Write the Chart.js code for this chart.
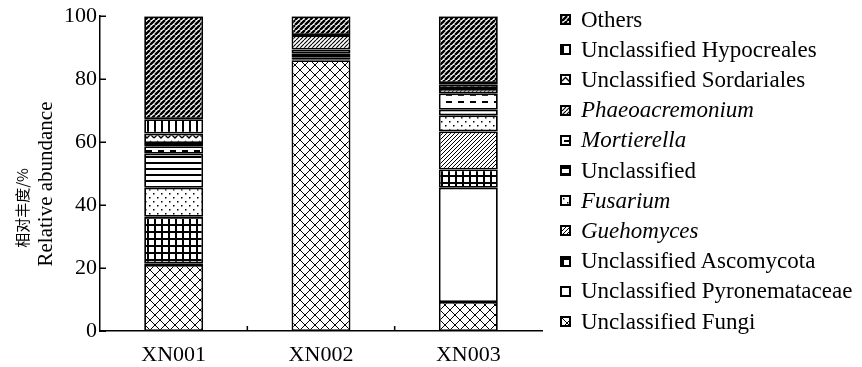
<!DOCTYPE html>
<html>
<head>
<meta charset="utf-8">
<script src="https://cdn.jsdelivr.net/npm/chart.js@4.4.0/dist/chart.umd.min.js"></script>
<style>
  html, body { margin: 0; padding: 0; background: #fff; }
  #wrap { position: relative; width: 862px; height: 367px; overflow: hidden; }
  #chart { position: absolute; left: 0; top: 0; }
  #legend { position: absolute; left: 0; top: 0; width: 862px; height: 367px; pointer-events: none; }
  .row { position: absolute; left: 560px; height: 24px; display: flex; align-items: center; white-space: nowrap; }
  .sw { width: 11px; height: 11px; box-sizing: border-box; border: 2px solid #000; display: block; margin-right: 10px; }
  .lbl { font-family: "Liberation Serif", "Times New Roman", serif; font-size: 23px; color: #000; display: inline-block; }
  .it { font-style: italic; }
</style>
</head>
<body>
<div id="wrap">
  <canvas id="chart" width="862" height="367"></canvas>
  <div id="legend"></div>
</div>
<script>
// ---------- data ----------
const categories = ['XN001', 'XN002', 'XN003'];
const yTicks = [0, 20, 40, 60, 80, 100];

const unclassifiedFungi          = [21.0, 86.0,  9.2];
const unclassifiedPyronemataceae = [ 0.5,  0.3, 36.3];
const unclassifiedAscomycota     = [14.8,  0.5,  5.8];
const guehomyces                 = [ 0.0,  0.0, 12.1];
const fusarium                   = [ 9.2,  0.2,  5.1];
const unclassified               = [10.8,  1.2,  1.8];
const mortierella                = [ 2.4,  1.2,  5.2];
const phaeoacremonium            = [ 1.0,  4.6,  1.4];
const unclassifiedSordariales    = [ 3.0,  0.0,  1.3];
const unclassifiedHypocreales    = [ 4.6,  0.0,  0.6];
const others                     = [32.7,  6.0, 21.2];

const seriesNames = ['Unclassified Fungi', 'Unclassified Pyronemataceae', 'Unclassified Ascomycota',
  'Guehomyces', 'Fusarium', 'Unclassified', 'Mortierella', 'Phaeoacremonium',
  'Unclassified Sordariales', 'Unclassified Hypocreales', 'Others'];
const seriesValues = [unclassifiedFungi, unclassifiedPyronemataceae, unclassifiedAscomycota,
  guehomyces, fusarium, unclassified, mortierella, phaeoacremonium,
  unclassifiedSordariales, unclassifiedHypocreales, others];
const italicNames = ['Guehomyces', 'Fusarium', 'Mortierella', 'Phaeoacremonium'];

// ---------- patterns ----------
function makePattern(w, h, draw) {
  const c = document.createElement('canvas');
  c.width = w; c.height = h;
  const g = c.getContext('2d');
  g.fillStyle = '#fff'; g.fillRect(0, 0, w, h);
  g.strokeStyle = '#000'; g.fillStyle = '#000';
  draw(g, w, h);
  return g.createPattern(c, 'repeat');
}
function diag(lw, s) {
  return makePattern(s, s, (g) => {
    g.lineWidth = lw;
    g.beginPath();
    for (const k of [-s, 0, s]) { g.moveTo(k, s); g.lineTo(k + s, 0); }
    g.stroke();
  });
}
const patterns = {
  'Others': diag(2.4, 5),
  'Unclassified Hypocreales': makePattern(7, 4, (g) => { g.fillRect(0, 0, 2, 4); }),
  'Unclassified Sordariales': makePattern(14, 7, (g) => {
    g.lineWidth = 1.4; g.beginPath(); g.moveTo(0, 5); g.lineTo(3.5, 1.5); g.lineTo(7, 5); g.lineTo(10.5, 1.5); g.lineTo(14, 5); g.stroke();
  }),
  'Phaeoacremonium': diag(1.1, 4),
  'Mortierella': makePattern(12, 7, (g) => { g.fillRect(2, 3, 6, 2); }),
  'Unclassified': makePattern(4, 6, (g) => { g.fillRect(0, 0, 4, 2); }),
  'Fusarium': makePattern(8, 8, (g) => { g.fillRect(1, 1, 1.5, 1.5); g.fillRect(5, 5, 1.5, 1.5); }),
  'Guehomyces': diag(1.0, 4),
  'Unclassified Ascomycota': makePattern(7, 7, (g) => { g.fillRect(0, 0, 7, 2); g.fillRect(0, 0, 2, 7); }),
  'Unclassified Pyronemataceae': '#ffffff',
  'Unclassified Fungi': makePattern(10, 10, (g) => {
    g.lineWidth = 1; g.beginPath();
    g.moveTo(0, 0); g.lineTo(10, 10); g.moveTo(10, 0); g.lineTo(0, 10);
    g.stroke();
  }),
};

// ---------- chart ----------
const datasets = seriesNames.map((name, i) => ({
  label: name,
  data: seriesValues[i],
  backgroundColor: patterns[name],
  borderColor: '#000',
  borderWidth: 1.8,
  borderSkipped: false,
  barPercentage: 0.8,
  categoryPercentage: 0.5,
}));

const FONT = '"Liberation Serif", "Times New Roman", serif';

const extras = {
  id: 'extras',
  afterDraw(chart) {
    const ctx = chart.ctx;
    const x = chart.scales.x, y = chart.scales.y;
    ctx.save();
    ctx.strokeStyle = '#000';
    ctx.lineWidth = 1.5;
    ctx.beginPath();
    const left = chart.chartArea.left, bottom = chart.chartArea.bottom;
    for (const v of yTicks) {
      const py = Math.round(y.getPixelForValue(v)) + 0.25;
      ctx.moveTo(left, py); ctx.lineTo(left + 6, py);
    }
    for (let i = 0; i < categories.length - 1; i++) {
      const px = (x.getPixelForValue(i) + x.getPixelForValue(i + 1)) / 2;
      ctx.moveTo(px, bottom); ctx.lineTo(px, bottom - 5);
    }
    ctx.stroke();
    // y-axis title
    ctx.fillStyle = '#000';
    ctx.textAlign = 'center';
    ctx.textBaseline = 'middle';
    ctx.save();
    ctx.translate(22, 208);
    ctx.rotate(-Math.PI / 2);
    ctx.font = '15px "Noto Sans CJK SC", sans-serif';
    ctx.fillText('相对丰度/%', 0, 0);
    ctx.restore();
    ctx.save();
    ctx.translate(46, 184);
    ctx.rotate(-Math.PI / 2);
    ctx.font = '21px ' + FONT;
    ctx.fillText('Relative abundance', 0, 0);
    ctx.restore();
    ctx.restore();
  }
};

new Chart(document.getElementById('chart'), {
  type: 'bar',
  data: { labels: categories, datasets },
  options: {
    responsive: false,
    animation: false,
    devicePixelRatio: 1,
    layout: { padding: { left: 0, right: 320, top: 14, bottom: 0 } },
    plugins: { legend: { display: false }, tooltip: { enabled: false } },
    scales: {
      x: {
        stacked: true,
        grid: { display: false, drawTicks: false, tickLength: 0 },
        border: { display: true, color: '#000', width: 1.5 },
        ticks: { color: '#000', font: { family: FONT, size: 22 }, padding: 11 },
        afterFit(s) { s.height = 36; },
      },
      y: {
        stacked: true,
        min: 0, max: 100,
        afterBuildTicks(s) { s.ticks = yTicks.map(v => ({ value: v })); },
        grid: { display: false, drawTicks: false, tickLength: 0 },
        border: { display: true, color: '#000', width: 1.5 },
        ticks: { color: '#000', font: { family: FONT, size: 22 }, padding: 3 },
        afterFit(s) { s.width = 100; },
      },
    },
  },
  plugins: [extras],
});

// ---------- legend ----------
const legend = document.getElementById('legend');
const legendOrder = seriesNames.slice().reverse();
legendOrder.forEach((name, i) => {
  const row = document.createElement('div');
  row.className = 'row';
  row.style.top = (19.5 + i * 30.2 - 12) + 'px';
  const sw = document.createElement('canvas');
  sw.className = 'sw';
  sw.width = 7; sw.height = 7;
  const g = sw.getContext('2d');
  g.fillStyle = patterns[name]; g.fillRect(0, 0, 7, 7);
  const lbl = document.createElement('span');
  lbl.className = 'lbl' + (italicNames.includes(name) ? ' it' : '');
  lbl.textContent = name;
  row.appendChild(sw); row.appendChild(lbl);
  legend.appendChild(row);
});
</script>
</body>
</html>
